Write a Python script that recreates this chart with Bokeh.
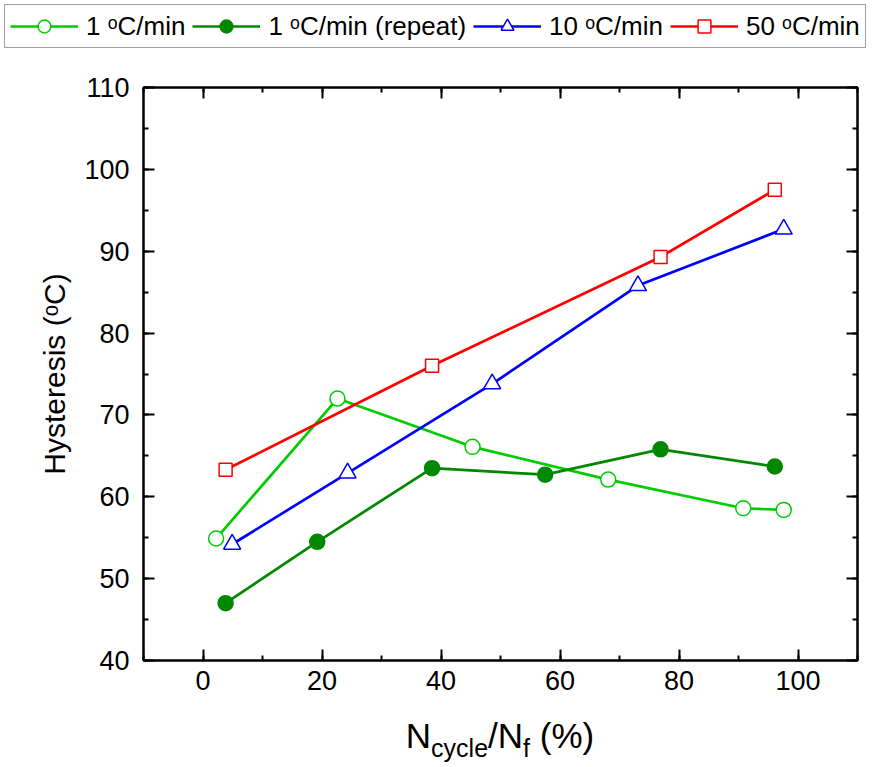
from bokeh.plotting import figure
from bokeh.models import (Range1d, LinearAxis, SingleIntervalTicker, Legend,
                          LegendItem, Div, CustomLabelingPolicy)
from bokeh.embed import file_html
from bokeh.resources import INLINE

# ---------------- data ----------------
x_1c = [2.2, 22.6, 45.3, 68.1, 90.8, 97.6]
y_1c = [54.9, 72.0, 66.1, 62.1, 58.6, 58.4]

x_1c_rep = [3.8, 19.2, 38.5, 57.5, 76.9, 96.1]
y_1c_rep = [47.0, 54.5, 63.5, 62.7, 65.8, 63.7]

x_10c = [4.9, 24.3, 48.6, 73.1, 97.6]
y_10c = [54.2, 62.9, 73.8, 85.8, 92.7]

x_50c = [3.8, 38.5, 76.9, 96.1]
y_50c = [63.3, 76.0, 89.3, 97.5]

series_labels = ["1 \u1d52C/min", "1 \u1d52C/min (repeat)", "10 \u1d52C/min", "50 \u1d52C/min"]
y_label = "Hysteresis (\u1d52C)"
x_label_html = "N<sub>cycle</sub>/N<sub>f</sub> (%)"
x_ticks_interval = 20
y_ticks_interval = 10

FONT = "Liberation Sans"
W = 876
LEG_H = 50
FIG_H = 655
XLAB_H = 767 - LEG_H - FIG_H

c_lg, c_dg, c_b, c_r = "#00CC00", "#008800", "#0000FF", "#FF0000"
series = [(x_1c, y_1c), (x_1c_rep, y_1c_rep), (x_10c, y_10c), (x_50c, y_50c)]
styles = [
    dict(color=c_lg, marker="circle", size=15, fill="white"),
    dict(color=c_dg, marker="circle", size=15, fill=c_dg),
    dict(color=c_b, marker="triangle", size=17, fill="white"),
    dict(color=c_r, marker="square", size=13, fill="white"),
]

# ---------------- main plot ----------------
p = figure(width=W, height=FIG_H, output_backend="svg", toolbar_location=None,
           x_range=Range1d(-10, 110), y_range=Range1d(40, 110),
           min_border_left=143, min_border_right=19, min_border_top=37,
           min_border_bottom=45, margin=0)
p.background_fill_color = "white"
p.border_fill_color = "white"
p.outline_line_color = "black"
p.outline_line_width = 2
p.xgrid.visible = False
p.ygrid.visible = False

hide_all = CustomLabelingPolicy(code="""
for (const i of Array.from(indices)) indices.unset(i)
return indices
""")

def style_axis(ax, ticker, show_labels):
    ax.ticker = ticker
    ax.axis_line_width = 2
    ax.major_tick_line_width = 2
    ax.minor_tick_line_width = 2
    ax.major_tick_in = 11
    ax.major_tick_out = 0
    ax.minor_tick_in = 5
    ax.minor_tick_out = 0
    ax.major_label_text_font = FONT
    ax.major_label_text_color = "black"
    if show_labels:
        ax.major_label_text_font_size = "27px"
    else:
        ax.major_label_text_font_size = "1px"
        ax.major_label_policy = hide_all
        ax.major_label_standoff = 0

xt = lambda: SingleIntervalTicker(interval=x_ticks_interval, num_minor_ticks=2)
yt = lambda: SingleIntervalTicker(interval=y_ticks_interval, num_minor_ticks=2)

style_axis(p.xaxis[0], xt(), True)
style_axis(p.yaxis[0], yt(), True)
p.xaxis[0].major_label_standoff = 10
p.yaxis[0].major_label_standoff = 14
p.yaxis[0].axis_label = y_label
p.yaxis[0].axis_label_text_font = FONT
p.yaxis[0].axis_label_text_font_size = "30px"
p.yaxis[0].axis_label_text_font_style = "normal"
p.yaxis[0].axis_label_text_color = "black"
p.yaxis[0].axis_label_standoff = 10

top_ax = LinearAxis()
style_axis(top_ax, xt(), False)
p.add_layout(top_ax, "above")
right_ax = LinearAxis()
style_axis(right_ax, yt(), False)
p.add_layout(right_ax, "right")

for (xs, ys), st in zip(series, styles):
    p.line(xs, ys, line_color=st["color"], line_width=2.7)
    p.scatter(xs, ys, marker=st["marker"], size=st["size"], line_color=st["color"],
              fill_color=st["fill"], line_width=1.5)

# ---------------- legend strip (own small canvas, separate root) ----------------
lf = figure(width=W, height=LEG_H, output_backend="svg", toolbar_location=None,
            x_axis_type=None, y_axis_type=None, min_border=0, margin=0,
            x_range=Range1d(-10, 110), y_range=Range1d(40, 110))
lf.outline_line_color = None
lf.xgrid.visible = False
lf.ygrid.visible = False
items = []
for lab, (xs, ys), st in zip(series_labels, series, styles):
    lr = lf.line(xs, ys, line_color=st["color"], line_width=2.7, visible=False)
    sr = lf.scatter(xs, ys, marker=st["marker"], size=st["size"] - 1,
                    line_color=st["color"], fill_color=st["fill"], line_width=1.5,
                    visible=False)
    items.append(LegendItem(label=lab, renderers=[lr, sr]))
legend = Legend(items=items, orientation="horizontal", location="top_left")
legend.label_text_font = FONT
legend.label_text_font_size = "26px"
legend.label_text_color = "black"
legend.glyph_width = 68
legend.glyph_height = 32
legend.label_standoff = 8
legend.spacing = 7
legend.padding = 5
legend.margin = 4
legend.border_line_color = "#404040"
legend.border_line_width = 1.5
legend.background_fill_color = "white"
legend.background_fill_alpha = 1
legend.click_policy = "none"
lf.add_layout(legend)

# ---------------- x axis label (with real subscripts) ----------------
xlab = Div(
    text=("<div style=\"margin-left:124px; width:752px; text-align:center; "
          "font-family:'Liberation Sans', Arial, sans-serif; font-size:35px; "
          "line-height:1; color:black; padding-top:13px; white-space:nowrap;\">"
          + x_label_html.replace("<sub>", "<sub style=\"font-size:25px; vertical-align:-9px; line-height:0;\">")
          + "</div>"),
    width=W, height=XLAB_H, margin=0)

open("out.html", "w").write(file_html([lf, p, xlab], INLINE))
